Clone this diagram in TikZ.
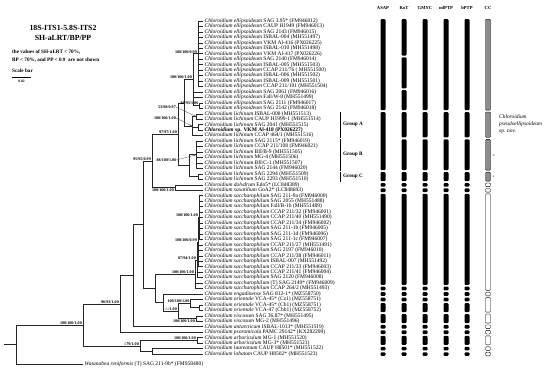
\documentclass[tikz,border=0pt]{standalone}
\usepackage{fontspec}
\setmainfont{Liberation Serif}
\usetikzlibrary{arrows.meta}
\newcommand{\Chl}[1]{\textit{Chloroidium #1}}
\newcommand{\segm}[4]{\path[#4] ({#1-2.5},{21+5.46*(#2-1)-1.8}) rectangle ({#1+2.5},{21+5.46*(#3-1)+1.8});}
\begin{document}
\begin{tikzpicture}[x=1pt,y=-1pt,
 br/.style={draw=black!85, line width=0.55pt},
 sup/.style={inner sep=0, font=\fontsize{4.1}{4.1}\selectfont\bfseries},
 leaf/.style={anchor=west, inner sep=0, xshift=1.5pt, font=\fontsize{5.5}{5.5}\selectfont},
 bar/.style={fill=black, rounded corners=1pt},
 ccg/.style={fill=black!45, draw=black, line width=0.4pt, rounded corners=1pt},
 ccw/.style={fill=white, draw=black, line width=0.4pt, rounded corners=1pt},
 hdr/.style={inner sep=0, font=\fontsize{4.6}{4.6}\selectfont\bfseries},
 grp/.style={anchor=west, inner sep=0, font=\fontsize{5.2}{5.2}\selectfont\bfseries},
 lead/.style={draw=black!70, line width=0.3pt, -{Stealth[length=2.2pt,width=1.8pt]}},
 note/.style={anchor=west, inner sep=0, font=\fontsize{5.2}{5.2}\selectfont\bfseries}]
\useasboundingbox (0,0) rectangle (550,375);

% ---- title block
\node[inner sep=0, font=\fontsize{7.8}{7.8}\selectfont\bfseries] (ttl1) at (63,28) {18S-ITS1-5.8S-ITS2};
\node[inner sep=0, font=\fontsize{7.8}{7.8}\selectfont\bfseries] (ttl2) at (63,38) {SH-aLRT/BP/PP};
\node[note] (nt1) at (12,52) {the values of SH-aLRT < 70\%,};
\node[note] (nt2) at (12,60) {BP < 70\%, and PP < 0.9~~are not shown};
\node[note] (nt3) at (12,71) {Scale bar};
\coordinate (sbA) at (12,77);
\coordinate (sbB) at (31,77);
\draw[line width=0.5pt] (sbA) -- (sbB);
\node[inner sep=0, font=\fontsize{3.6}{3.6}\selectfont\bfseries] (sbv) at (21.5,81) {0.02};

% ---- leaf tips
\foreach \i in {1,...,62} {\coordinate (p\i) at (203,{21+5.46*(\i-1)});}
\coordinate (p63) at (83,364);

% ---- leaf labels
\node[leaf] (t1) at (p1) {\Chl{ellipsoideum} SAG 3.95* (FM946012)};
\node[leaf] (t2) at (p2) {\Chl{ellipsoideum} CAUP H1949 (FM946013)};
\node[leaf] (t3) at (p3) {\Chl{ellipsoideum} SAG 2143 (FM946015)};
\node[leaf] (t4) at (p4) {\Chl{ellipsoideum} ISBAL-004 (MH551497)};
\node[leaf] (t5) at (p5) {\Chl{ellipsoideum} VKM Al-416 (PX026225)};
\node[leaf] (t6) at (p6) {\Chl{ellipsoideum} ISBAL-010 (MH551498)};
\node[leaf] (t7) at (p7) {\Chl{ellipsoideum} VKM Al-417 (PX026226)};
\node[leaf] (t8) at (p8) {\Chl{ellipsoideum} SAG 2140 (FM946014)};
\node[leaf] (t9) at (p9) {\Chl{ellipsoideum} ISBAL-005 (MH551503)};
\node[leaf] (t10) at (p10) {\Chl{ellipsoideum} CCAP 211/76 ( MH551500)};
\node[leaf] (t11) at (p11) {\Chl{ellipsoideum} ISBAL-006 (MH551502)};
\node[leaf] (t12) at (p12) {\Chl{ellipsoideum} ISBAL-009 (MH551501)};
\node[leaf] (t13) at (p13) {\Chl{ellipsoideum} CCAP 211/101 (MH551504)};
\node[leaf] (t14) at (p14) {\Chl{ellipsoideum} SAG 2061 (FM946016)};
\node[leaf] (t15) at (p15) {\Chl{ellipsoideum} Fall/W-8 (MH551499)};
\node[leaf] (t16) at (p16) {\Chl{ellipsoideum} SAG 2111 (FM946017)};
\node[leaf] (t17) at (p17) {\Chl{ellipsoideum} SAG 2142 (FM946018)};
\node[leaf] (t18) at (p18) {\Chl{lichinum} ISBAL-008 (MH551513)};
\node[leaf] (t19) at (p19) {\Chl{lichinum} CAUP H1999-1 (MH551514)};
\node[leaf] (t20) at (p20) {\Chl{lichinum} SAG 2041 (MH551515)};
\node[leaf] (t21) at (p21) {\textbf{\textit{Chloroidium} sp. VKM Al-418 (PX026227)}};
\node[leaf] (t22) at (p22) {\Chl{lichinum} CCAP 464/1 (MH551516)};
\node[leaf] (t23) at (p23) {\Chl{lichinum} SAG 2115* (FM946019)};
\node[leaf] (t24) at (p24) {\Chl{lichinum} CCAP 211/108 (FM946021)};
\node[leaf] (t25) at (p25) {\Chl{lichinum} BII/B-9 (MH551505)};
\node[leaf] (t26) at (p26) {\Chl{lichinum} MG-4 (MH551506)};
\node[leaf] (t27) at (p27) {\Chl{lichinum} BII/C-1 (MH551507)};
\node[leaf] (t28) at (p28) {\Chl{lichinum} SAG 2144 (FM946020)};
\node[leaf] (t29) at (p29) {\Chl{lichinum} SAG 2294 (MH551509)};
\node[leaf] (t30) at (p30) {\Chl{lichinum} SAG 2293 (MH551510)};
\node[leaf] (t31) at (p31) {\Chl{dolvdrum} Edo5* (LC848389)};
\node[leaf] (t32) at (p32) {\Chl{saxatilium} GoA2* (LC848693)};
\node[leaf] (t33) at (p33) {\Chl{saccharophilum} SAG 211-9a (FM946000)};
\node[leaf] (t34) at (p34) {\Chl{saccharophilum} SAG 2055 (MH551488)};
\node[leaf] (t35) at (p35) {\Chl{saccharophilum} Fall/B-1b (MH551489)};
\node[leaf] (t36) at (p36) {\Chl{saccharophilum} CCAP 211/32 (FM946001)};
\node[leaf] (t37) at (p37) {\Chl{saccharophilum} CCAP 211/40 (MH551490)};
\node[leaf] (t38) at (p38) {\Chl{saccharophilum} CCAP 211/34 (FM946002)};
\node[leaf] (t39) at (p39) {\Chl{saccharophilum} SAG 211-1b (FM946005)};
\node[leaf] (t40) at (p40) {\Chl{saccharophilum} SAG 211-1d (FM946006)};
\node[leaf] (t41) at (p41) {\Chl{saccharophilum} SAG 211-1c (FM946007)};
\node[leaf] (t42) at (p42) {\Chl{saccharophilum} CCAP 211/27 (MH551491)};
\node[leaf] (t43) at (p43) {\Chl{saccharophilum} SAG 2197 (FM946010)};
\node[leaf] (t44) at (p44) {\Chl{saccharophilum} CCAP 211/38 (FM946011)};
\node[leaf] (t45) at (p45) {\Chl{saccharophilum} ISBAL-007 (MH551492)};
\node[leaf] (t46) at (p46) {\Chl{saccharophilum} CCAP 211/33 (FM946003)};
\node[leaf] (t47) at (p47) {\Chl{saccharophilum} CCAP 211/41 (FM946004)};
\node[leaf] (t48) at (p48) {\Chl{saccharophilum} SAG 2120 (FM946008)};
\node[leaf] (t49) at (p49) {\Chl{saccharophilum} (T) SAG 2149* (FM946009)};
\node[leaf] (t50) at (p50) {\Chl{saccharophilum} CCAP 264/2 (MH551493)};
\node[leaf] (t51) at (p51) {\Chl{engadinense} SAG 812-1* (MZ558750)};
\node[leaf] (t52) at (p52) {\Chl{orientale} VCA-45* (Cz1) (MZ558751)};
\node[leaf] (t53) at (p53) {\Chl{orientale} VCA-45* (Cb1) (MZ558751)};
\node[leaf] (t54) at (p54) {\Chl{orientale} VCA-47 (Cbb1) (MZ558752)};
\node[leaf] (t55) at (p55) {\Chl{viscosum} SAG 36.87* (MH551495)};
\node[leaf] (t56) at (p56) {\Chl{viscosum} MG-2 (MH551496)};
\node[leaf] (t57) at (p57) {\Chl{antarcticum} ISBAL-1013* (MH551519)};
\node[leaf] (t58) at (p58) {\Chl{psoromicola} PAMC 29142* (KX282299)};
\node[leaf] (t59) at (p59) {\Chl{arboriculum} MG-1 (MH551520)};
\node[leaf] (t60) at (p60) {\Chl{arboriculum} MG-3* (MH551521)};
\node[leaf] (t61) at (p61) {\Chl{laureanum} CAUP H8501* (MH551522)};
\node[leaf] (t62) at (p62) {\Chl{lobatum} CAUP H8502* (MH551523)};
\node[leaf] (t63) at (p63) {\textit{Watanabea reniformis} (T) SAG 211-9b* (FM958480)};

% ---- internal nodes
\coordinate (R0) at (4,344.46);
\coordinate (R) at (16,344.46);
\coordinate (A) at (83,324.92);
\coordinate (B) at (120,303.96);
\coordinate (C) at (140,345.87);
\coordinate (Arb) at (197,340.41);
\coordinate (LL) at (152,351.33);
\coordinate (D) at (133,275.7);
\coordinate (H) at (143,224.64);
\coordinate (N95) at (152,160.9);
\coordinate (DS) at (175,187.53);
\coordinate (N97) at (178,134.3);
\coordinate (EL) at (184,102.9);
\coordinate (E1) at (193,79.7);
\coordinate (E1a) at (198,53.76);
\coordinate (E1b) at (199,105.63);
\coordinate (GA) at (192,126.1);
\coordinate (GA1) at (196,116.55);
\coordinate (GA2) at (198,127.47);
\coordinate (GBC) at (189,165.69);
\coordinate (GB) at (196,154.77);
\coordinate (GC) at (198,176.61);
\coordinate (S) at (155,288.37);
\coordinate (SacD) at (195,274.21);
\coordinate (SacC) at (197,259.88);
\coordinate (SacB) at (198,242.13);
\coordinate (SacA) at (199,217.56);
\coordinate (EOV) at (163,302.53);
\coordinate (OV) at (178,311.07);
\coordinate (OR) at (190,303.56);
\coordinate (OR2) at (199,307.65);
\coordinate (VI) at (196,318.57);

% ---- branches
\draw[br] (R0) -- (R);
\draw[br] (R) |- (A);
\draw[br] (R) |- (p63);
\draw[br] (A) |- (B);
\draw[br] (A) |- (C);
\draw[br] (C) |- (Arb);
\draw[br] (C) |- (LL);
\draw[br] (Arb) |- (p59);
\draw[br] (Arb) |- (p60);
\draw[br] (LL) |- (p61);
\draw[br] (LL) |- (p62);
\draw[br] (B) |- (D);
\draw[br] (B) |- (p58);
\draw[br] (D) |- (H);
\draw[br] (D) |- (p57);
\draw[br] (H) |- (N95);
\draw[br] (H) |- (S);
\draw[br] (N95) |- (N97);
\draw[br] (N95) |- (DS);
\draw[br] (DS) |- (p31);
\draw[br] (DS) |- (p32);
\draw[br] (N97) |- (EL);
\draw[br] (N97) |- (GBC);
\draw[br] (EL) |- (E1);
\draw[br] (EL) |- (GA);
\draw[br] (E1) |- (E1a);
\draw[br] (E1) |- (p14);
\draw[br] (E1) |- (p15);
\draw[br] (E1) |- (E1b);
\foreach \i in {1,...,13} {\draw[br] (E1a) |- (p\i);}
\draw[br] (E1b) |- (p16);
\draw[br] (E1b) |- (p17);
\draw[br] (GA) |- (GA1);
\draw[br] (GA) |- (GA2);
\draw[br] (GA) |- (p22);
\draw[br] (GA1) |- (p18);
\draw[br] (GA1) |- (p19);
\draw[br] (GA2) |- (p20);
\draw[br] (GA2) |- (p21);
\draw[br] (GBC) |- (GB);
\draw[br] (GBC) |- (GC);
\foreach \i in {23,...,28} {\draw[br] (GB) |- (p\i);}
\draw[br] (GC) |- (p29);
\draw[br] (GC) |- (p30);
\draw[br] (S) |- (SacD);
\draw[br] (S) |- (EOV);
\draw[br] (SacD) |- (SacC);
\draw[br] (SacD) |- (p49);
\draw[br] (SacD) |- (p50);
\draw[br] (SacC) |- (SacB);
\draw[br] (SacC) |- (p47);
\draw[br] (SacC) |- (p48);
\draw[br] (SacB) |- (SacA);
\foreach \i in {42,...,46} {\draw[br] (SacB) |- (p\i);}
\foreach \i in {33,...,41} {\draw[br] (SacA) |- (p\i);}
\draw[br] (EOV) |- (p51);
\draw[br] (EOV) |- (OV);
\draw[br] (OV) |- (OR);
\draw[br] (OV) |- (VI);
\draw[br] (OR) |- (p52);
\draw[br] (OR) |- (OR2);
\draw[br] (OR2) |- (p53);
\draw[br] (OR2) |- (p54);
\draw[br] (VI) |- (p55);
\draw[br] (VI) |- (p56);

% ---- support values
\node[sup, anchor=south east] (sA) at (82,324.4) {100/100/1.00};
\node[sup, anchor=south east] (sB) at (119,303.5) {96/93/1.00};
\node[sup, anchor=south east] (sC) at (139,345.4) {-/79/1.00};
\node[sup, anchor=south east] (sArb) at (196,339.9) {100/100/1.00};
\node[sup, anchor=south east] (sE1a) at (197,53.3) {100/100/0.99};
\node[sup, anchor=south east] (sE1) at (192,79.2) {100/100/1.00};
\node[sup, anchor=south east] (sE1b) at (198.5,105.1) {89/93/1.00};
\node[sup, anchor=south east] (sN97) at (177,133.8) {97/97/1.00};
\node[sup, anchor=south east] (sN95) at (151,160.4) {95/95/0.99};
\node[sup, anchor=north east] (sDS) at (174,188.3) {100/100/1.00};
\node[sup, anchor=south east] (sSacA) at (198,217.1) {100/100/1.00};
\node[sup, anchor=south east] (sSacB) at (197,241.6) {100/100/0.99};
\node[sup, anchor=south east] (sSacC) at (196,259.4) {87/94/1.00};
\node[sup, anchor=south east] (sSacD) at (194,273.7) {100/100/1.00};
\node[sup, anchor=south east] (sOR) at (189.5,303) {100/100/1.00};
\node[sup, anchor=south east] (sOV) at (177,310.6) {-/-/1.00};
\node[sup, anchor=north east] (sVI) at (195,319.3) {100/100/1.00};
\node[sup, anchor=east] (sGA1) at (176,107) {53/98/0.97};
\node[sup, anchor=east] (sGA) at (176,118) {100/100/1.00};
\node[sup, anchor=east] (sGB) at (176.5,160) {88/100/1.00};
\draw[lead] (sGA1.east) -- (GA1);
\draw[lead] (sGA.east) -- (GA);
\draw[lead] (sGB.east) -- (GB);

% ---- groups
\coordinate (gA1) at (340,{113.82-2.3});
\coordinate (gA2) at (340,{135.66+2.3});
\coordinate (gB1) at (340,{141.12-2.3});
\coordinate (gB2) at (340,{168.42+2.3});
\coordinate (gC1) at (340,{173.88-2.3});
\coordinate (gC2) at (340,{179.34+2.3});
\draw[line width=0.8pt] (gA1) -- (gA2);
\draw[line width=0.8pt] (gB1) -- (gB2);
\draw[line width=0.8pt] (gC1) -- (gC2);
\node[grp] (grA) at (343,124.7) {Group A};
\node[grp] (grB) at (343,154.8) {Group B};
\node[grp] (grC) at (343,176.6) {Group C};

% ---- column headers
\node[hdr] (hASAP) at (383,8) {ASAP};
\node[hdr] (hKoT) at (404,8) {KoT};
\node[hdr] (hGMYC) at (425,8) {GMYC};
\node[hdr] (hml) at (446,8) {mlPTP};
\node[hdr] (hb) at (467,8) {bPTP};
\node[hdr] (hCC) at (488,8) {CC};

% ---- delimitation bars
\foreach \a/\b in {1/17,18/28,29/30,31/31,32/32,33/49,50/50,51/51,52/52,53/54,55/56,57/57,58/58,59/60,61/61,62/62} {\segm{383}{\a}{\b}{bar}}
\foreach \a/\b in {1/7,8/13,14/17,18/22,23/28,29/30,31/31,32/32,33/49,50/50,51/51,52/52,53/54,55/56,57/57,58/58,59/60,61/61,62/62} {\segm{404}{\a}{\b}{bar}}
\foreach \cx in {425,446,467} {
  \foreach \a/\b in {1/17,18/22,23/28,29/30,31/31,32/32,33/49,50/50,51/51,52/52,53/54,55/56,57/57,58/58,59/60,61/61,62/62} {\segm{\cx}{\a}{\b}{bar}}
}
\foreach \a/\b in {1/17,18/22,23/28,29/30} {\segm{488}{\a}{\b}{ccg}}
\foreach \a/\b in {31/31,32/32,33/50,51/51,52/54,55/56,57/57,58/58,59/60,61/61,62/62} {\segm{488}{\a}{\b}{ccw}}

\node[inner sep=0, font=\fontsize{4}{4}\selectfont] (stB) at (493.5,156.5) {*};
\node[inner sep=0, font=\fontsize{4}{4}\selectfont] (stC) at (493.5,177.5) {*};

\node[anchor=west, inner sep=0, font=\fontsize{5.4}{5.4}\selectfont\itshape] (sp1) at (499,117) {Chloroidium};
\node[anchor=west, inner sep=0, font=\fontsize{5.4}{5.4}\selectfont\itshape] (sp2) at (499,124.5) {pseudoellipsoideum};
\node[anchor=west, inner sep=0, font=\fontsize{5.4}{5.4}\selectfont] (sp3) at (499,132) {sp. nov.};
\end{tikzpicture}
\end{document}
